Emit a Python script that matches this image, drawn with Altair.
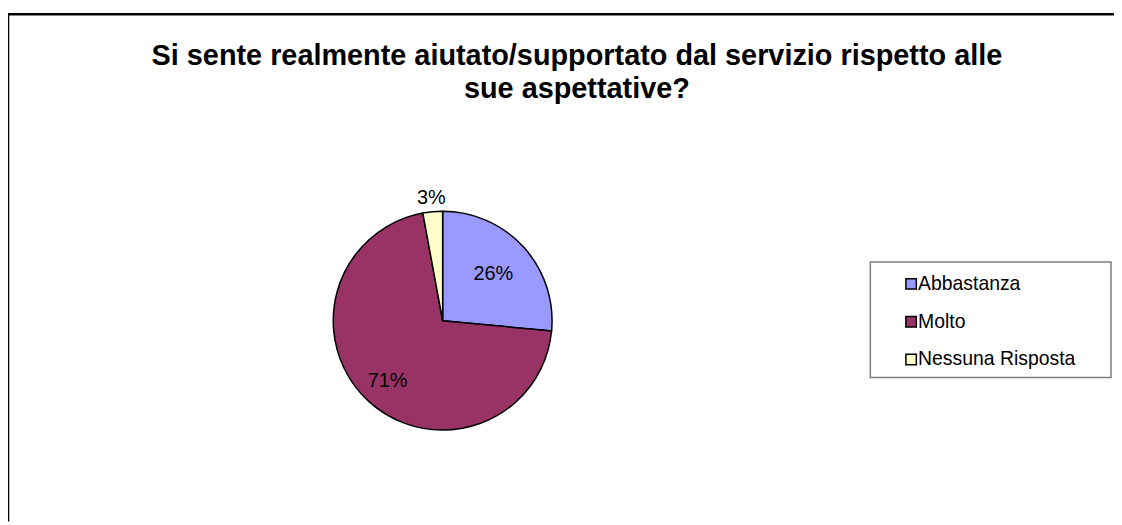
import altair as alt
import pandas as pd

TITLE_LINES = ["Si sente realmente aiutato/supportato dal servizio rispetto alle", "sue aspettative?"]
CATEGORIES = ["Abbastanza", "Molto", "Nessuna Risposta"]
VALUES = [26.5, 70.6, 2.9]
LABELS = ["26%", "71%", "3%"]
COLORS = ["#9999FF", "#993366", "#FFFFCC"]

FONT = "Liberation Sans"

df = pd.DataFrame({"cat": CATEGORIES, "value": VALUES, "label": LABELS,
                   "order": list(range(len(CATEGORIES)))})

color_scale = alt.Scale(domain=CATEGORIES, range=COLORS)

CX, CY, R = 437, 313, 110
W, H = 1112, 515

one = pd.DataFrame({"k": [0]})

frame_top = alt.Chart(one).mark_rule(color="black", strokeWidth=2.5).encode(
    x=alt.value(0), x2=alt.value(W), y=alt.value(5))
frame_left = alt.Chart(one).mark_rule(color="black", strokeWidth=2.5).encode(
    x=alt.value(0), y=alt.value(5), y2=alt.value(H))

title = alt.Chart(one).mark_text(
    text=TITLE_LINES, font=FONT, fontSize=29, fontWeight="bold",
    align="center", baseline="alphabetic", lineHeight=33, color="black"
).encode(x=alt.value(572), y=alt.value(56))

pie = alt.Chart(df).mark_arc(
    outerRadius=R, stroke="black", strokeWidth=1.5
).encode(
    theta=alt.Theta("value:Q", stack=True),
    order=alt.Order("order:Q"),
    color=alt.Color("cat:N", scale=color_scale, legend=None),
    x=alt.value(CX), y=alt.value(CY),
)


def label_layer(cat, radius):
    return alt.Chart(df).mark_text(
        font=FONT, fontSize=20, color="black", radius=radius
    ).encode(
        theta=alt.Theta("value:Q", stack=True),
        order=alt.Order("order:Q"),
        text=alt.condition(f"datum.cat == '{cat}'", "label:N", alt.value("")),
        x=alt.value(CX), y=alt.value(CY),
    )


labels = [label_layer("Abbastanza", 69), label_layer("Molto", 82),
          label_layer("Nessuna Risposta", 124)]

legend_box = alt.Chart(one).mark_rect(
    fill="white", stroke="#7f7f7f", strokeWidth=1.5
).encode(x=alt.value(867), x2=alt.value(1109), y=alt.value(254), y2=alt.value(370))

ypos = alt.Y("cat:N", scale=alt.Scale(domain=CATEGORIES, range=[276, 352], padding=0), axis=None)

legend_sym = alt.Chart(df).mark_square(
    size=110, stroke="black", strokeWidth=1.5, opacity=1
).encode(
    y=ypos, x=alt.value(908),
    color=alt.Color("cat:N", scale=color_scale, legend=None),
)

legend_txt = alt.Chart(df).mark_text(
    font=FONT, fontSize=19.5, align="left", baseline="middle", color="black"
).encode(y=ypos, x=alt.value(915), text="cat:N")

chart = alt.layer(frame_top, frame_left, title, pie, *labels, legend_box, legend_sym, legend_txt).properties(
    width=W, height=H, padding=0, autosize=alt.AutoSizeParams(type="none")
).configure_view(strokeWidth=0)

chart.save("out.html", embed_options={"renderer": "svg", "actions": False})
